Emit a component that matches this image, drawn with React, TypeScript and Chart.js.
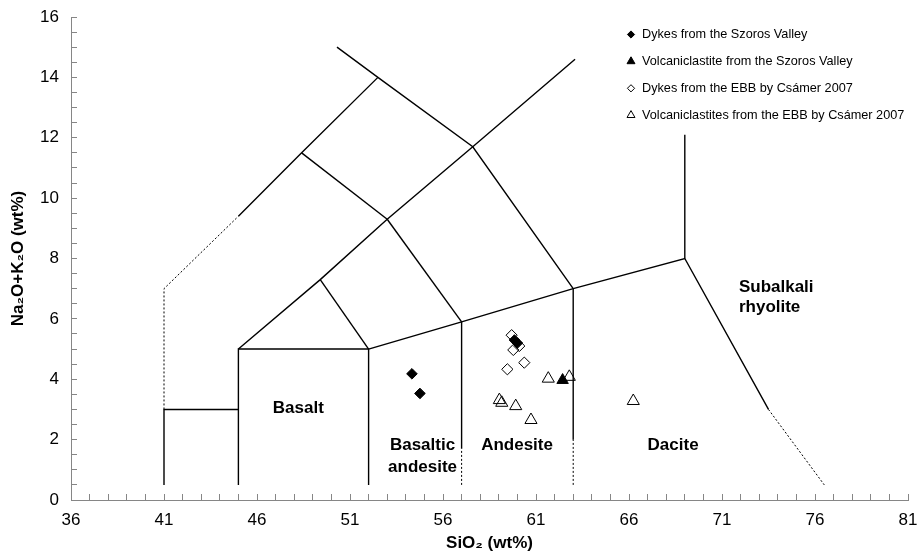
import React, { useEffect, useRef } from 'react';
import { Chart, registerables } from 'chart.js';
import { drawPoint } from 'chart.js/helpers';

Chart.register(...registerables);

// ---------- axes ----------
const X_MIN = 36;
const X_MAX = 81;
const X_MINOR_STEP = 1;
const xMajorTicks = [36, 41, 46, 51, 56, 61, 66, 71, 76, 81];
const Y_MIN = 0;
const Y_MAX = 16;
const Y_MINOR_STEP = 0.5;
const yMajorTicks = [0, 2, 4, 6, 8, 10, 12, 14, 16];

// ---------- series (SiO2 wt%, Na2O+K2O wt%) ----------
const dykesSzorosSiO2 = [54.33, 54.76, 59.84, 60.0];
const dykesSzorosAlk = [4.18, 3.53, 5.3, 5.2];
const volcSzorosSiO2 = [62.43];
const volcSzorosAlk = [3.97];
const dykesEbbSiO2 = [59.69, 60.1, 59.78, 60.37, 59.46];
const dykesEbbAlk = [5.46, 5.1, 4.97, 4.55, 4.33];
const volcEbbSiO2 = [61.66, 62.79, 59.03, 59.16, 59.91, 60.73, 66.23];
const volcEbbAlk = [4.02, 4.08, 3.31, 3.22, 3.11, 2.65, 3.28];

const seriesLabels = [
  'Dykes from the Szoros Valley',
  'Volcaniclastite from the Szoros Valley',
  'Dykes from the EBB by Csámer 2007',
  'Volcaniclastites from the EBB by Csámer 2007',
];

// ---------- TAS field boundaries ----------
const solidBoundaries: number[][][] = [
  [[41, 0.5], [41, 3], [45, 3]],
  [[45, 0.5], [45, 5], [52, 5], [52, 0.5]],
  [[52, 5], [57, 5.9], [63, 7], [69, 8], [73.5, 3.0]],
  [[57, 1.7], [57, 5.9]],
  [[63, 2.0], [63, 7]],
  [[69, 8], [69, 12.1]],
  [[45, 5], [49.4, 7.3], [53, 9.3], [57.6, 11.7], [63.1, 14.6]],
  [[49.4, 7.3], [52, 5]],
  [[53, 9.3], [57, 5.9]],
  [[50.3, 15.0], [52.5, 14], [57.6, 11.7], [63, 7]],
  [[45, 9.4], [48.4, 11.5], [52.5, 14]],
  [[48.4, 11.5], [53, 9.3]],
];
const dashedBoundaries: number[][][] = [
  [[41, 3], [41, 7], [45, 9.4]],
  [[57, 0.5], [57, 1.7]],
  [[63, 0.5], [63, 2.0]],
  [[73.5, 3.0], [76.5, 0.5]],
];

// ---------- field names ----------
const fieldNames = ['Basalt', 'Basaltic', 'andesite', 'Andesite', 'Dacite', 'Subalkali', 'rhyolite'];
const fieldNameX = [48.22, 54.9, 54.9, 59.98, 68.37, 71.91, 71.91];
const fieldNameY = [2.87, 1.64, 0.94, 1.64, 1.64, 6.9, 6.24];
const fieldNameAlign = ['center', 'center', 'center', 'center', 'center', 'left', 'left'];

const FONT = "'Liberation Sans', Arial, Helvetica, sans-serif";

const zip = (xs: number[], ys: number[]) => xs.map((x, i) => ({ x, y: ys[i] }));

const boundaryDatasets = [
  ...solidBoundaries.map((pts) => ({
    data: pts.map(([x, y]) => ({ x, y })),
    showLine: true,
    borderColor: '#000',
    borderWidth: 1.4,
    pointRadius: 0,
    fill: false,
    order: 10,
  })),
  ...dashedBoundaries.map((pts) => ({
    data: pts.map(([x, y]) => ({ x, y })),
    showLine: true,
    borderColor: '#000',
    borderWidth: 1,
    borderDash: [2, 2],
    pointRadius: 0,
    fill: false,
    order: 10,
  })),
];

const pointDatasets = [
  {
    label: seriesLabels[0],
    data: zip(dykesSzorosSiO2, dykesSzorosAlk),
    pointStyle: 'rectRot',
    pointRadius: 5.3,
    backgroundColor: '#000',
    borderColor: '#000',
    borderWidth: 1,
    order: 1,
    legendRadius: 3.6,
  },
  {
    label: seriesLabels[1],
    data: zip(volcSzorosSiO2, volcSzorosAlk),
    pointStyle: 'triangle',
    pointRadius: 6.6,
    backgroundColor: '#000',
    borderColor: '#000',
    borderWidth: 1,
    order: 0,
    legendRadius: 4.6,
  },
  {
    label: seriesLabels[2],
    data: zip(dykesEbbSiO2, dykesEbbAlk),
    pointStyle: 'rectRot',
    pointRadius: 5.6,
    backgroundColor: 'rgba(255,255,255,0)',
    borderColor: '#000',
    borderWidth: 1,
    order: 3,
    legendRadius: 3.6,
  },
  {
    label: seriesLabels[3],
    data: zip(volcEbbSiO2, volcEbbAlk),
    pointStyle: 'triangle',
    pointRadius: 7,
    backgroundColor: 'rgba(255,255,255,0)',
    borderColor: '#000',
    borderWidth: 1,
    order: 2,
    legendRadius: 4.6,
  },
];

const legendPlugin = {
  id: 'tasLegend',
  afterDatasetsDraw(chart: any) {
    const ctx = chart.ctx;
    const markerX = 631;
    const top = 34.5;
    const row = 26.9;
    ctx.save();
    pointDatasets.forEach((ds, i) => {
      const y = top + i * row;
      ctx.fillStyle = ds.backgroundColor === '#000' ? '#000' : '#fff';
      ctx.strokeStyle = '#000';
      ctx.lineWidth = 1;
      drawPoint(ctx, { pointStyle: ds.pointStyle, radius: ds.legendRadius, rotation: 0, borderWidth: 1 } as any, markerX, y);
      ctx.fillStyle = '#000';
      ctx.font = `12.7px ${FONT}`;
      ctx.textAlign = 'left';
      ctx.textBaseline = 'middle';
      ctx.fillText(ds.label, markerX + 11, y);
    });
    ctx.restore();
  },
};

const fieldNamePlugin = {
  id: 'tasFieldNames',
  afterDatasetsDraw(chart: any) {
    const ctx = chart.ctx;
    const xs = chart.scales.x;
    const ys = chart.scales.y;
    ctx.save();
    ctx.fillStyle = '#000';
    ctx.font = `bold 17px ${FONT}`;
    ctx.textBaseline = 'alphabetic';
    fieldNames.forEach((t, i) => {
      ctx.textAlign = fieldNameAlign[i];
      ctx.fillText(t, xs.getPixelForValue(fieldNameX[i]), ys.getPixelForValue(fieldNameY[i]));
    });
    ctx.restore();
  },
};

const AXIS_GREY = '#868686';

export default function App() {
  const ref = useRef<HTMLCanvasElement>(null);
  useEffect(() => {
    const chart = new Chart(ref.current as HTMLCanvasElement, {
      type: 'scatter',
      data: { datasets: [...boundaryDatasets, ...pointDatasets] as any },
      options: {
        animation: false,
        responsive: false,
        devicePixelRatio: 1,
        events: [],
        layout: { padding: { left: 0, right: 15, top: 17, bottom: 0 } },
        plugins: { legend: { display: false }, tooltip: { enabled: false } },
        scales: {
          x: {
            type: 'linear',
            min: X_MIN,
            max: X_MAX,
            afterFit: (s: any) => {
              s.height = 54;
              s.paddingLeft = 0;
              s.paddingRight = 0;
            },
            ticks: {
              stepSize: X_MINOR_STEP,
              autoSkip: false,
              maxRotation: 0,
              padding: 16,
              color: '#000',
              font: { family: FONT, size: 17 },
              callback: (v: any) => (xMajorTicks.includes(Number(v)) ? String(v) : ''),
            },
            grid: { drawOnChartArea: false, drawTicks: true, tickLength: -6, tickColor: AXIS_GREY, color: AXIS_GREY },
            border: { display: true, color: AXIS_GREY, width: 1 },
            title: {
              display: true,
              text: 'SiO₂ (wt%)',
              color: '#000',
              font: { family: FONT, size: 17, weight: 'bold' },
              padding: { top: 0, bottom: 0 },
            },
          },
          y: {
            type: 'linear',
            min: Y_MIN,
            max: Y_MAX,
            afterFit: (s: any) => {
              s.width = 71;
              s.paddingTop = 0;
              s.paddingBottom = 0;
            },
            ticks: {
              stepSize: Y_MINOR_STEP,
              autoSkip: false,
              padding: 18,
              color: '#000',
              font: { family: FONT, size: 17 },
              callback: (v: any) => (yMajorTicks.includes(Number(v)) ? String(v) : ''),
            },
            grid: { drawOnChartArea: false, drawTicks: true, tickLength: -6, tickColor: AXIS_GREY, color: AXIS_GREY },
            border: { display: true, color: AXIS_GREY, width: 1 },
            title: {
              display: true,
              text: 'Na₂O+K₂O (wt%)',
              color: '#000',
              font: { family: FONT, size: 17, weight: 'bold' },
              padding: { top: 8, bottom: 0 },
            },
          },
        },
      } as any,
      plugins: [fieldNamePlugin, legendPlugin],
    });
    return () => chart.destroy();
  }, []);
  return (
    <div style={{ position: 'absolute', left: 0, top: 0, width: 923, height: 554, background: '#fff' }}>
      <canvas ref={ref} width={923} height={554} style={{ display: 'block' }} />
    </div>
  );
}
